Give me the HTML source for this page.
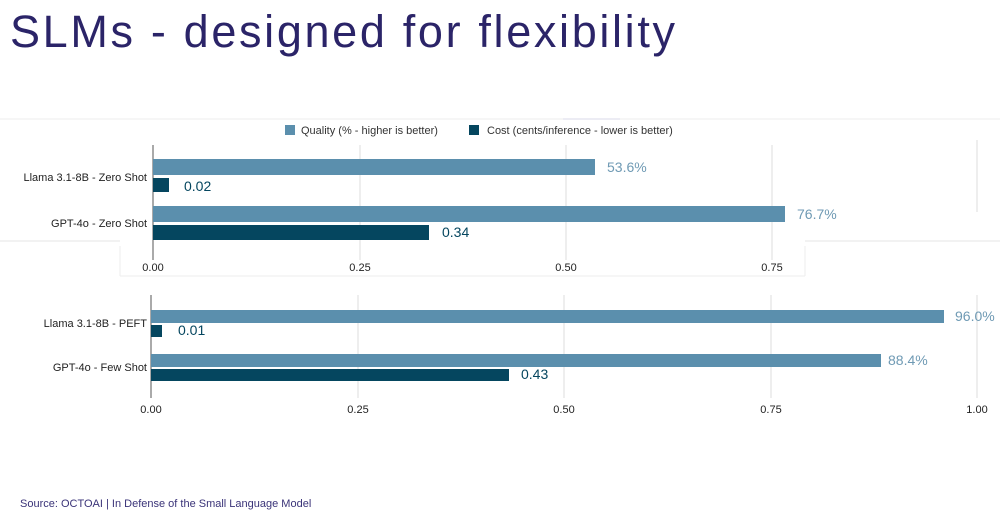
<!DOCTYPE html>
<html><head><style>
body{margin:0;background:#fff;width:1000px;height:520px;overflow:hidden;font-family:"Liberation Sans",sans-serif}
</style></head><body>
<svg width="1000" height="520" xmlns="http://www.w3.org/2000/svg" font-family="Liberation Sans, sans-serif">
<text x="10" y="47" font-size="45" fill="#2b2468" textLength="665" lengthAdjust="spacing">SLMs - designed for flexibility</text>
<line x1="0" y1="119" x2="1000" y2="119" stroke="#eee"/>
<line x1="563" y1="119" x2="620" y2="119" stroke="#d8dae8"/>
<line x1="0" y1="241" x2="120" y2="241" stroke="#e6e6e6"/>
<line x1="120" y1="246" x2="120" y2="276" stroke="#eee"/>
<line x1="120" y1="276" x2="805" y2="276" stroke="#eee"/>
<line x1="805" y1="246" x2="805" y2="276" stroke="#eee"/>
<line x1="805" y1="241" x2="1000" y2="241" stroke="#e6e6e6"/>
<line x1="977" y1="140" x2="977" y2="212" stroke="#ddd"/>
<rect x="285" y="125" width="10" height="10" fill="#5b8fad"/>
<text x="301" y="134" font-size="11" fill="#333">Quality (% - higher is better)</text>
<rect x="469" y="125" width="10" height="10" fill="#05465f"/>
<text x="487" y="134" font-size="11" fill="#333">Cost (cents/inference - lower is better)</text>
<g stroke="#ddd"><line x1="360" y1="145" x2="360" y2="260"/><line x1="566" y1="145" x2="566" y2="260"/><line x1="772" y1="145" x2="772" y2="260"/></g>
<line x1="153" y1="145" x2="153" y2="260" stroke="#555"/>
<rect x="153" y="159" width="442" height="16" fill="#5b8fad"/>
<rect x="153" y="178" width="16" height="14" fill="#05465f"/>
<rect x="153" y="206" width="632" height="16" fill="#5b8fad"/>
<rect x="153" y="225" width="276" height="15" fill="#05465f"/>
<g font-size="14"><text x="607" y="172" fill="#6f9ab4">53.6%</text><text x="184" y="191" fill="#05465f">0.02</text>
<text x="797" y="219" fill="#6f9ab4">76.7%</text><text x="442" y="237" fill="#05465f">0.34</text></g>
<g font-size="11" fill="#222" text-anchor="end"><text x="147" y="181">Llama 3.1-8B - Zero Shot</text><text x="147" y="227">GPT-4o - Zero Shot</text>
<text x="147" y="327">Llama 3.1-8B - PEFT</text><text x="147" y="371">GPT-4o - Few Shot</text></g>
<g font-size="11" fill="#222" text-anchor="middle"><text x="153" y="271">0.00</text><text x="360" y="271">0.25</text><text x="566" y="271">0.50</text><text x="772" y="271">0.75</text>
<text x="151" y="413">0.00</text><text x="358" y="413">0.25</text><text x="564" y="413">0.50</text><text x="771" y="413">0.75</text><text x="977" y="413">1.00</text></g>
<g stroke="#ddd"><line x1="358" y1="295" x2="358" y2="398"/><line x1="564" y1="295" x2="564" y2="398"/><line x1="771" y1="295" x2="771" y2="398"/><line x1="977" y1="295" x2="977" y2="398"/></g>
<line x1="151" y1="295" x2="151" y2="398" stroke="#555"/>
<rect x="151" y="310" width="793" height="13" fill="#5b8fad"/>
<rect x="151" y="325" width="11" height="12" fill="#05465f"/>
<rect x="151" y="354" width="730" height="13" fill="#5b8fad"/>
<rect x="151" y="369" width="358" height="12" fill="#05465f"/>
<g font-size="14"><text x="955" y="321" fill="#6f9ab4">96.0%</text><text x="178" y="335" fill="#05465f">0.01</text>
<text x="888" y="365" fill="#6f9ab4">88.4%</text><text x="521" y="379" fill="#05465f">0.43</text></g>
<text x="20" y="507" font-size="11" fill="#3a3378">Source: OCTOAI | In Defense of the Small Language Model</text>
</svg>
</body></html>
